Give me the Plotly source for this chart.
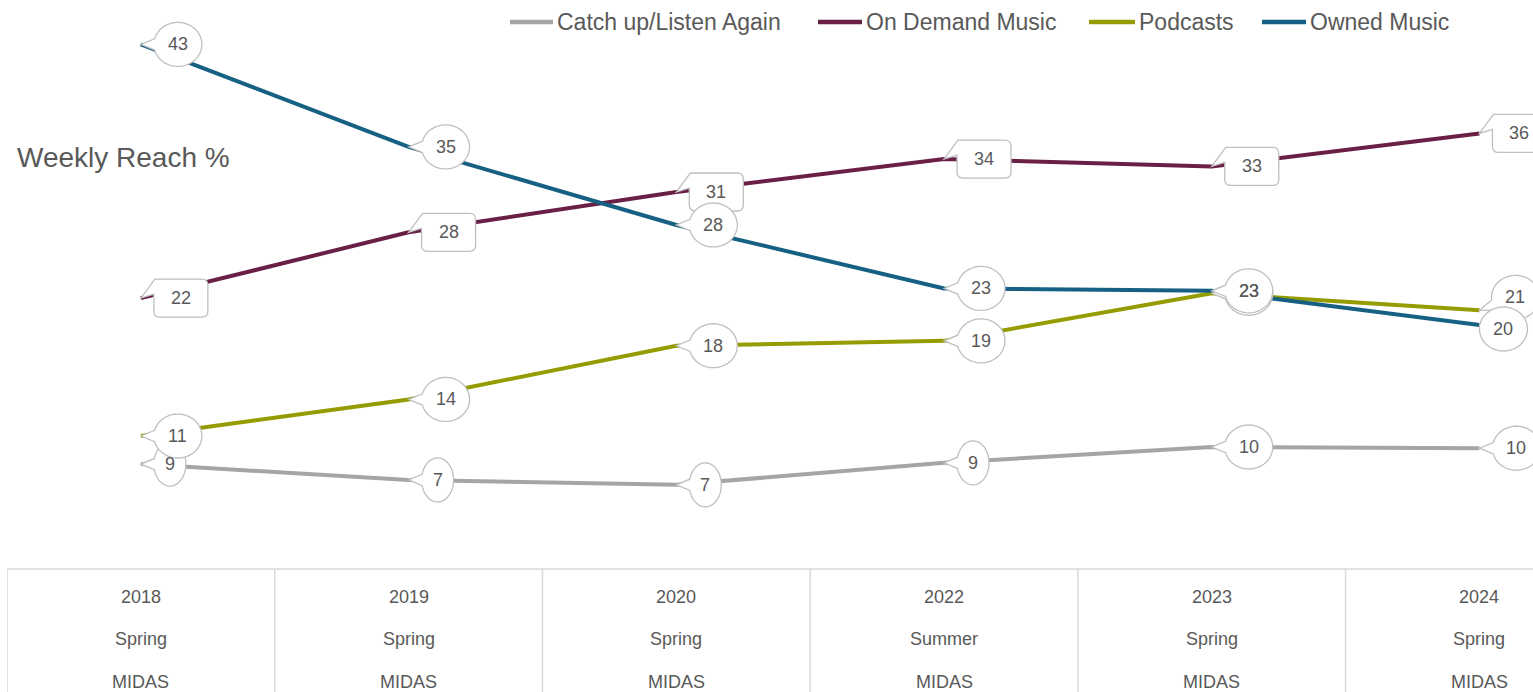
import math
import plotly.graph_objects as go

# ---------------- data ----------------
years = ["2018", "2019", "2020", "2022", "2023", "2024"]
seasons = ["Spring", "Spring", "Spring", "Summer", "Spring", "Spring"]
sources = ["MIDAS", "MIDAS", "MIDAS", "MIDAS", "MIDAS", "MIDAS"]

series_names = ["Catch up/Listen Again", "On Demand Music", "Podcasts", "Owned Music"]
catch_up = [8.6, 7.3, 6.9, 8.7, 10.0, 9.9]
on_demand = [22.2, 27.6, 30.9, 33.6, 33.0, 35.7]
podcasts = [10.9, 13.9, 18.3, 18.7, 22.6, 21.2]
owned = [43.0, 34.6, 28.2, 23.0, 22.8, 20.0]
series_values = [catch_up, on_demand, podcasts, owned]

# ---------------- style ----------------
colors = ["#A5A5A5", "#6A1F46", "#959C00", "#166083"]
callout_kind = ["oval", "rect", "oval", "oval"]
TEXT = "#595959"
BORDER = "#BFBFBF"
GRID = "#D9D9D9"
FONT = "Liberation Sans, Arial, sans-serif"

W, H = 1533, 692
ML, MR, MT, MB = 7, 0, 20, 123
PW, PH = W - ML - MR, H - MT - MB
XR = [-0.5, 5.2]
YR = [0, 45]
PX_PER_UNIT = PH / (YR[1] - YR[0])

# label offset overrides (series index, point index) -> (dx, dy) in px, dy up
label_override = {(2, 5): (36, 13), (3, 5): (24, -4)}
# a label hidden behind another one: its text is aligned with the label in front
hidden_behind = {(2, 4): 3}


def px_to_paper_x(px):
    return (px - ML) / PW


def px_to_paper_y(py):
    return (H - MB - py) / PH


def oval_path(cx, cy, a, b, half=0.26, n=64):
    phi = math.atan2(-cy / b, -cx / a)
    start = phi + half
    end = phi + 2 * math.pi - half
    pts = []
    for k in range(n + 1):
        t = start + (end - start) * k / n
        pts.append((cx + a * math.cos(t), cy + b * math.sin(t)))
    return "M0,0 " + " ".join("L%.2f,%.2f" % p for p in pts) + " Z"


def rect_path(cx, cy, w, h, r=6):
    l, rt = cx - w / 2, cx + w / 2
    top, bot = cy + h / 2, cy - h / 2
    return (
        "M0,0 L%.1f,%.1f " % (l + 1, top)
        + "L%.1f,%.1f Q%.1f,%.1f %.1f,%.1f " % (rt - r, top, rt, top, rt, top - r)
        + "L%.1f,%.1f Q%.1f,%.1f %.1f,%.1f " % (rt, bot + r, rt, bot, rt - r, bot)
        + "L%.1f,%.1f Q%.1f,%.1f %.1f,%.1f " % (l + r, bot, l, bot, l, bot + r)
        + "L%.1f,%.1f Z" % (l, cy + 4)
    )


fig = go.Figure()
xs = list(range(len(years)))

for s, (name, vals) in enumerate(zip(series_names, series_values)):
    fig.add_trace(go.Scatter(
        x=xs, y=vals, mode="lines", name=name,
        line=dict(color=colors[s], width=4),
        showlegend=False, hoverinfo="skip",
    ))

shapes = []
annotations = []

for s, vals in enumerate(series_values):
    for i, v in enumerate(vals):
        txt = str(int(round(v)))
        if callout_kind[s] == "oval":
            a, b = (16 if len(txt) == 1 else 24), 22
            dx, dy = (29 if len(txt) == 1 else 37), 0
            if (s, i) in label_override:
                dx, dy = label_override[(s, i)]
            path = oval_path(dx, dy, a, b)
        else:
            a, b = 27, 19
            dx, dy = 40, 0
            if (s, i) in label_override:
                dx, dy = label_override[(s, i)]
            path = rect_path(dx, dy, 2 * a, 2 * b)
        shapes.append(dict(
            type="path", xref="x", yref="y", xsizemode="pixel", ysizemode="pixel",
            xanchor=i, yanchor=v, path=path, fillcolor="white",
            line=dict(color=BORDER, width=1.3), layer="above",
        ))
        tdy = dy
        if (s, i) in hidden_behind:
            front = hidden_behind[(s, i)]
            tdy = dy + (series_values[front][i] - v) * PX_PER_UNIT
        annotations.append(dict(
            x=i, y=v, xref="x", yref="y", xshift=dx, yshift=tdy, text=txt,
            showarrow=False, font=dict(size=18, color=TEXT, family=FONT),
            xanchor="center", yanchor="middle",
        ))

# category table
y_bottom = -MB / PH
shapes.append(dict(type="line", xref="x", yref="paper", x0=XR[0], x1=XR[1], y0=0, y1=0,
                   line=dict(color=GRID, width=1.5), layer="below"))
for i in xs:
    shapes.append(dict(type="line", xref="x", yref="paper", x0=i - 0.5, x1=i - 0.5,
                       y0=0, y1=y_bottom, line=dict(color=GRID, width=1.5), layer="below"))
    for lab, shift in zip([years[i], seasons[i], sources[i]], [-28, -70, -113]):
        annotations.append(dict(
            x=i, y=0, xref="x", yref="paper", yshift=shift, text=lab, showarrow=False,
            font=dict(size=18, color=TEXT, family=FONT), xanchor="center", yanchor="middle",
        ))

# axis title
annotations.append(dict(
    x=px_to_paper_x(15), y=px_to_paper_y(157), xref="paper", yref="paper",
    text="Weekly Reach %", showarrow=False, xanchor="left", yanchor="middle",
    font=dict(size=28, color=TEXT, family=FONT),
))

# legend (manual)
legend_sample_px = [(510, 553), (818, 862), (1089, 1135), (1262, 1306)]
ly = px_to_paper_y(22)
for s, name in enumerate(series_names):
    x0, x1 = legend_sample_px[s]
    shapes.append(dict(type="line", xref="paper", yref="paper",
                       x0=px_to_paper_x(x0), x1=px_to_paper_x(x1), y0=ly, y1=ly,
                       line=dict(color=colors[s], width=4.5), layer="above"))
    annotations.append(dict(
        x=px_to_paper_x(x1 + 2), y=ly, xref="paper", yref="paper", text=name,
        showarrow=False, xanchor="left", yanchor="middle",
        font=dict(size=23, color=TEXT, family=FONT),
    ))

fig.update_layout(
    width=W, height=H,
    margin=dict(l=ML, r=MR, t=MT, b=MB, pad=0),
    paper_bgcolor="white", plot_bgcolor="white",
    xaxis=dict(range=XR, showgrid=False, zeroline=False, showticklabels=False,
               showline=False, ticks="", fixedrange=True),
    yaxis=dict(range=YR, showgrid=False, zeroline=False, showticklabels=False,
               showline=False, ticks="", fixedrange=True),
    shapes=shapes, annotations=annotations, showlegend=False,
    font=dict(family=FONT, color=TEXT),
)

fig.write_html(
    "out.html",
    config={"displayModeBar": False},
    post_script="document.body.style.margin='0';document.body.style.overflow='hidden';",
)
